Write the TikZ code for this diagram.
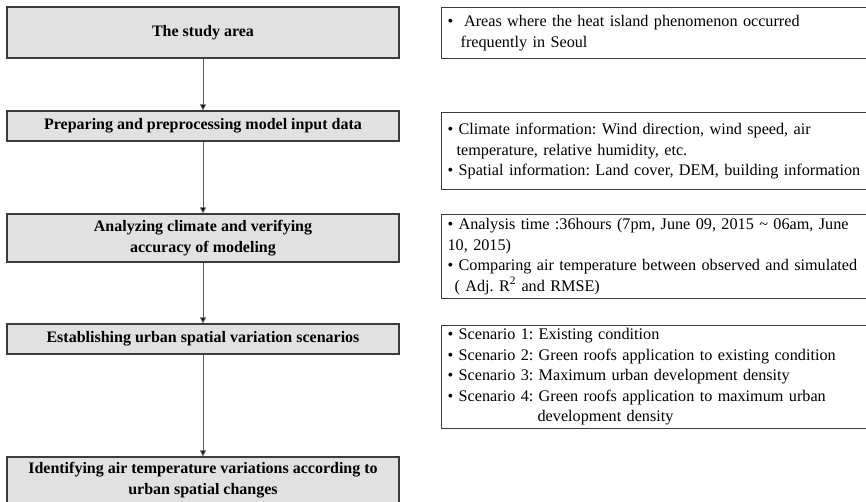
\documentclass[tikz,border=0pt]{standalone}
\usepackage{fontspec}
\setmainfont{Liberation Serif}
\usetikzlibrary{arrows.meta}
\definecolor{boxfill}{HTML}{E1E1E1}
\definecolor{boxline}{HTML}{3C3C3C}
\definecolor{flowline}{HTML}{5A5A5A}
\frenchspacing
\begin{document}
\begin{tikzpicture}[x=1pt,y=-1pt,
  stage/.style={draw=boxline, line width=1.3pt, fill=boxfill, minimum width=392pt,
    inner sep=0pt, align=center, font=\fontsize{16}{21}\selectfont\bfseries},
  notebox/.style={draw=boxline, line width=1.2pt, anchor=north west, minimum width=440pt,
    inner xsep=6pt, inner ysep=0pt, text width=428pt, align=left,
    font=\fontsize{16.2}{20.5}\selectfont},
  flow/.style={draw=flowline, line width=0.9pt, -{Triangle[width=6pt,length=6pt,fill=black]}}
]
\useasboundingbox (0,0) rectangle (866,502);

% process stages (left column)
\node[stage, minimum height=51pt] (s1) at (203,32.5) {The study area};
\node[stage, minimum height=30pt] (s2) at (203,126) {Preparing and preprocessing model input data};
\node[stage, minimum height=48pt] (s3) at (203,238) {Analyzing climate and verifying\\accuracy of modeling};
\node[stage, minimum height=30pt] (s4) at (203,339) {Establishing urban spatial variation scenarios};
\node[stage, minimum height=47pt] (s5) at (203,480.5) {Identifying air temperature variations according to\\urban spatial changes};

\draw[flow] (s1.south) -- (s2.north);
\draw[flow] (s2.south) -- (s3.north);
\draw[flow] (s3.south) -- (s4.north);
\draw[flow] (s4.south) -- (s5.north);

% descriptions (right column)
\node[notebox, minimum height=51pt] (n1) at (441,7)
  {\textbullet\ \ Areas where the heat island phenomenon occurred\\
   \hspace*{13pt}frequently in Seoul};
\node[notebox, minimum height=77pt] (n2) at (441,112)
  {\textbullet\ Climate information: Wind direction, wind speed, air\\
   \hspace*{9pt}temperature, relative humidity, etc.\\
   \textbullet\ Spatial information: Land cover, DEM, building information};
\node[notebox, minimum height=84pt] (n3) at (441,214)
  {\textbullet\ Analysis time :36hours (7pm, June 09, 2015 \textasciitilde\ 06am, June\\
   10, 2015)\\
   \textbullet\ Comparing air temperature between observed and simulated\\
   \hspace*{7pt}( Adj. R\textsuperscript{2} and RMSE)};
\node[notebox, minimum height=103pt] (n4) at (441,325)
  {\textbullet\ Scenario 1: Existing condition\\
   \textbullet\ Scenario 2: Green roofs application to existing condition\\
   \textbullet\ Scenario 3: Maximum urban development density\\
   \textbullet\ Scenario 4: Green roofs application to maximum urban\\
   \hspace*{90pt}development density};
\end{tikzpicture}
\end{document}
